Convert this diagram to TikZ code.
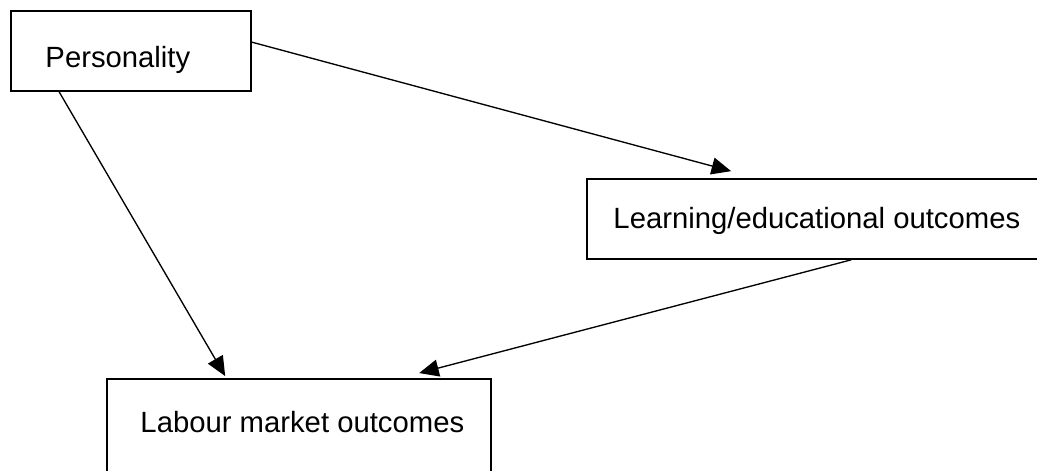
\documentclass[tikz,border=0pt]{standalone}
\usepackage{fontspec}
\setmainfont{Liberation Sans}
\usetikzlibrary{%
  arrows.meta,%
  calc%
}

\begin{document}
\begin{tikzpicture}[
    x=0.41pt,y=-0.41pt,
    >={Triangle[length=8pt,width=7pt]},
    box/.style={rectangle,draw,line width=.7pt,inner sep=0pt},
    boxtext/.style={inner sep=0pt,anchor=base west},
    link/.style={->,line width=.55pt}
  ]
    \fontsize{12}{14}\selectfont
    \useasboundingbox (0,0) rectangle (1037,471);
    \clip (0,0) rectangle (1037,471);

    \node [box,minimum width=98.4pt,minimum height=32.8pt]  (pers)  at (131,51)    {};
    \node [box,minimum width=187.8pt,minimum height=32.8pt] (learn) at (816,219)   {};
    \node [box,minimum width=157.4pt,minimum height=39pt]   (lab)   at (299,426.5) {};

    \node [boxtext] (perstext)  at (45,67)   {Personality};
    \node [boxtext] (learntext) at (613,229) {Learning/educational outcomes};
    \node [boxtext] (labtext)   at (140,432) {Labour market outcomes};

    \draw [link] ($(pers.north east)+(0,32)$)   -- ($(learn.north west)+(145,-7)$);
    \draw [link] ($(pers.south west)+(49,0)$)   -- ($(lab.north west)+(119,-2)$);
    \draw [link] ($(learn.south west)+(265,0)$) -- ($(lab.north west)+(313,-5)$);
\end{tikzpicture}
\end{document}
